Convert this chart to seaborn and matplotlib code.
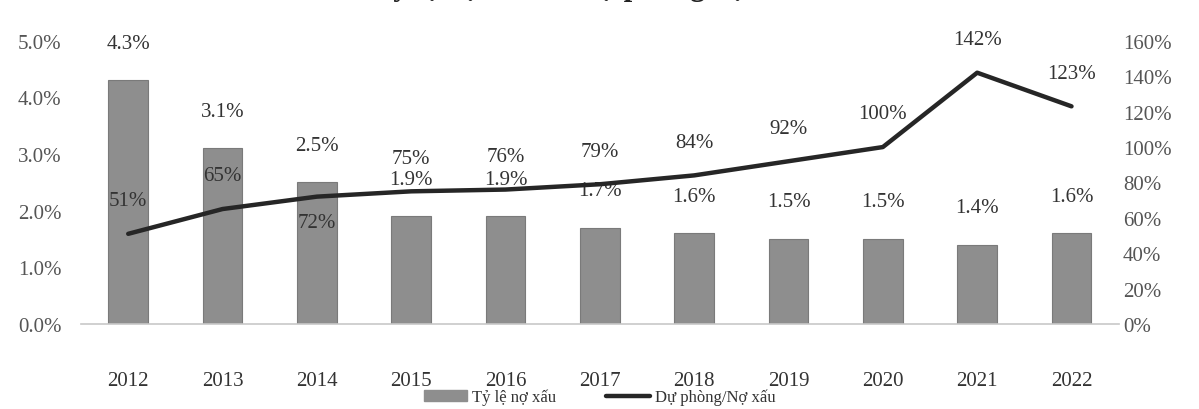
import numpy as np
import pandas as pd
import seaborn as sns
import matplotlib.pyplot as plt
from matplotlib.ticker import FuncFormatter

# --- dữ liệu ---
years = ['2012', '2013', '2014', '2015', '2016', '2017', '2018', '2019', '2020', '2021', '2022']
npl_ratio = [4.3, 3.1, 2.5, 1.9, 1.9, 1.7, 1.6, 1.5, 1.5, 1.4, 1.6]          # Tỷ lệ nợ xấu (%)
coverage = [51, 65, 72, 75, 76, 79, 84, 92, 100, 142, 123]                  # Dự phòng/Nợ xấu (%)
npl_labels = ['4.3%', '3.1%', '2.5%', '1.9%', '1.9%', '1.7%', '1.6%', '1.5%', '1.5%', '1.4%', '1.6%']
cov_labels = ['51%', '65%', '72%', '75%', '76%', '79%', '84%', '92%', '100%', '142%', '123%']

df = pd.DataFrame({'year': years, 'npl': npl_ratio, 'cov': coverage})

sns.set_theme(style='white')
plt.rcParams['font.family'] = ['Liberation Serif', 'DejaVu Serif']

BAR = '#8e8e8e'
LINE = '#262626'
TXT = '#333333'
FS = 15

fig = plt.figure(figsize=(11.99, 4.10), dpi=100)
ax = fig.add_axes([0.0676, 0.207, 0.8654, 0.691])
ax2 = ax.twinx()

sns.barplot(data=df, x='year', y='npl', color=BAR, width=0.42, ax=ax,
            saturation=1, edgecolor='#7a7a7a', linewidth=0.8)
ax.set_ylim(0, 5.0)
ax.set_yticks(np.arange(0, 5.01, 1.0))
ax.yaxis.set_major_formatter(FuncFormatter(lambda v, p: f'{v:.1f}%'))

xpos = np.arange(len(years))
sns.lineplot(x=xpos, y=df['cov'], ax=ax2, color=LINE, linewidth=3.2)
ax2.set_ylim(0, 160)
ax2.set_yticks(np.arange(0, 161, 20))
ax2.yaxis.set_major_formatter(FuncFormatter(lambda v, p: f'{v:.0f}%'))
ax.set_xlim(-0.5, len(years) - 0.5)

for a in (ax, ax2):
    a.set_xlabel('')
    a.set_ylabel('')
    for s in a.spines.values():
        s.set_visible(False)
    a.grid(False)
ax.spines['bottom'].set_visible(True)
ax.spines['bottom'].set_color('#c8c8c8')
ax.spines['bottom'].set_linewidth(1.2)

ax.tick_params(axis='x', length=0, pad=34, labelsize=FS, labelcolor=TXT)
ax.tick_params(axis='y', length=0, pad=14, labelsize=FS, labelcolor='#555555')
ax2.tick_params(axis='y', length=0, pad=3, labelsize=FS, labelcolor='#555555')

# nhãn cột
for i, (v, lab) in enumerate(zip(npl_ratio, npl_labels)):
    ax.annotate(lab, (i, v), xytext=(0, 20), textcoords='offset points',
                ha='center', va='bottom', fontsize=FS, color=TXT)

# nhãn đường
for i, (v, lab) in enumerate(zip(coverage, cov_labels)):
    dy = -12 if years[i] == '2014' else 17
    va = 'top' if dy < 0 else 'bottom'
    ax2.annotate(lab, (i, v), xytext=(0, dy), textcoords='offset points',
                 ha='center', va=va, fontsize=FS, color=TXT)

# tiêu đề (bị cắt ở mép trên)
fig.text(0.49, 1.011, 'Tỷ lệ nợ xấu và dự phòng nợ xấu', ha='center', va='baseline',
         fontsize=22, fontweight='bold', color='#222222')

handles = [plt.Rectangle((0, 0), 1, 1, color=BAR),
           plt.Line2D([0], [0], color=LINE, linewidth=3.2)]
fig.legend(handles, ['Tỷ lệ nợ xấu', 'Dự phòng/Nợ xấu'], loc='lower center',
           bbox_to_anchor=(0.5, -0.028), ncol=2, frameon=False, fontsize=12,
           handlelength=2.6, columnspacing=3.0, handletextpad=0.3,
           labelcolor=TXT)

fig.savefig('out.png', dpi=100)
